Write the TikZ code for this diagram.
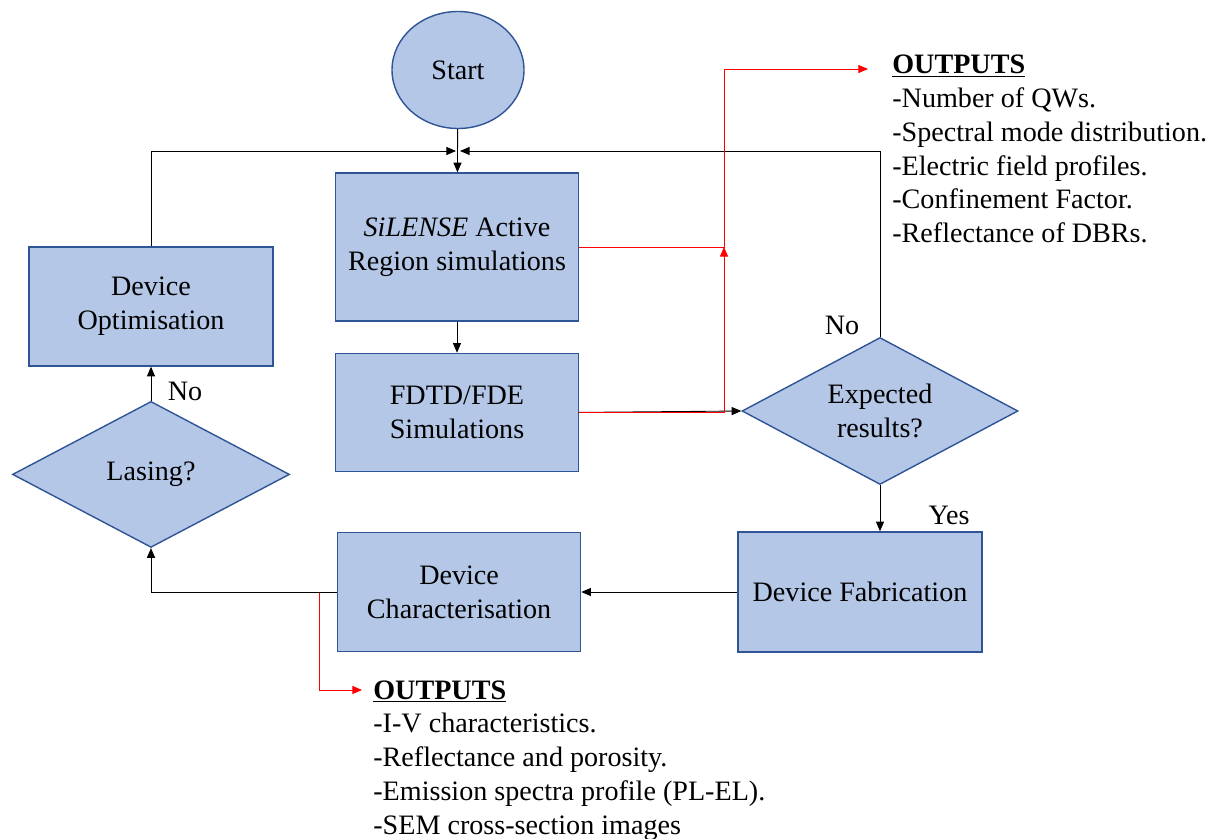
\documentclass[tikz,border=0pt]{standalone}
\usepackage{fontspec}
\setmainfont{Liberation Serif}
\usetikzlibrary{positioning, shapes.geometric, arrows.meta}
\definecolor{boxFill}{HTML}{B4C7E7}
\definecolor{boxLine}{HTML}{2F5597}
\tikzstyle{normalBox} = [shape=rectangle, draw=boxLine, text=black, line width=0.8pt,
	align=center, fill=boxFill]
\tikzstyle{FlowBox} = [normalBox, minimum width=4.86cm, minimum height=2.38cm]
\tikzstyle{decisionBox} = [normalBox, shape=diamond, aspect=1.9, inner sep=1pt,
	minimum width=5.54cm, minimum height=2.92cm]
\tikzstyle{normalArrow} = [line width=0.5pt,->,>={Triangle[length=5.5pt,width=4.6pt]}, draw=black]
\tikzstyle{redArrow} = [normalArrow, draw=red]
\tikzstyle{outText} = [align=left, anchor=base west, inner sep=0pt]

\begin{document}
\begin{tikzpicture}[font=\fontsize{16}{19.2}\selectfont]
  \useasboundingbox (0,0) rectangle (24.3,-16.78);
  \node (start) at (9.16,-1.40) [normalBox, shape=ellipse, minimum width=2.64cm, minimum height=2.34cm] {Start};
  \node (SIL) at (9.14,-4.94) [FlowBox, minimum height=2.96cm] {\textit{SiLENSE} Active\\Region simulations};
  \node (FDTD) [FlowBox, below=0.62cm of SIL, minimum height=2.36cm] {FDTD/FDE\\Simulations};

  \node (DOPT) at (3.02,-6.13) [FlowBox, minimum width=4.88cm] {Device\\Optimisation};
  \node (LAS) [decisionBox, below=0.68cm of DOPT] {Lasing?};

  \node (EXP) at (17.6,-8.22) [decisionBox, minimum width=5.52cm, minimum height=2.94cm] {Expected\\results?};
  \node (FAB) at (17.2,-11.84) [FlowBox, minimum width=4.88cm, minimum height=2.4cm] {Device Fabrication};
  \node (CHAR) [FlowBox, left=3.12cm of FAB] {Device\\Characterisation};

  \node (noExp) at (16.84,-6.5) {No};
  \node (noLas) at (3.70,-7.82) {No};
  \node (yes) at (18.98,-10.3) {Yes};

  % base anchor sits on the last line
  \node (OUT1) at (17.84,-4.85) [outText] {\textbf{\underline{OUTPUTS}}\\-Number of QWs.\\-Spectral mode distribution.\\-Electric field profiles.\\-Confinement Factor.\\-Reflectance of DBRs.};
  \node (OUT2) at (7.46,-16.68) [outText] {\textbf{\underline{OUTPUTS}}\\-I-V characteristics.\\-Reflectance and porosity.\\-Emission spectra profile (PL-EL).\\-SEM cross-section images};

  \coordinate (merge) at (9.16,-3.02);
  \coordinate (redTop) at (14.48,-1.38);
  \coordinate (outA) at (17.36,-1.38);
  \coordinate (redBot) at (6.38,-11.86);
  \coordinate (outB) at (7.24,-13.8);

  \draw [normalArrow] (start) -- (SIL);
  \draw [normalArrow] (SIL) -- (FDTD);
  \draw [normalArrow] (DOPT.north) |- ([xshift=-0.04cm]merge);
  \draw [normalArrow] (EXP.north) |- ([xshift=0.04cm]merge);
  \draw [normalArrow] (FDTD.east) -- (EXP.west);
  \draw [normalArrow] (EXP.south) -- (EXP.south |- FAB.north);
  \draw [normalArrow] (FAB) -- (CHAR);
  \draw [normalArrow] (CHAR.west) -| (LAS.south);
  \draw [normalArrow] (LAS) -- (DOPT);

  \draw [redArrow] (SIL.east) -| (redTop) -- (outA);
  \draw [redArrow] (FDTD.east) -| (redTop |- SIL.east);
  \draw [redArrow] (redBot) |- (outB);
\end{tikzpicture}
\end{document}
